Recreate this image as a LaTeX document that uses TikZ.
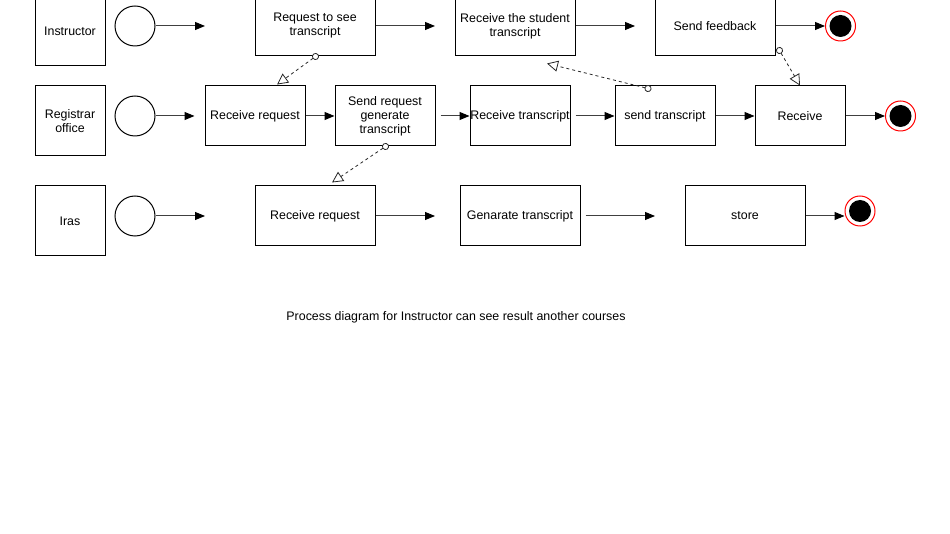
\documentclass[tikz,border=0pt]{standalone}
\usepackage{fontspec}
\setmainfont{Liberation Sans}
\usetikzlibrary{arrows.meta}
\tikzset{
  lane/.style={draw, line width=1pt, minimum width=70pt, minimum height=70pt, inner sep=0pt, align=center},
  act/.style={draw, line width=1pt, minimum height=60pt, inner sep=0pt, align=center},
  startc/.style={draw, circle, line width=1pt, minimum size=40pt, inner sep=0pt},
  endring/.style={draw=red, fill=white, circle, line width=1pt, minimum size=30pt, inner sep=0pt},
  enddot/.style={fill=black, circle, minimum size=22pt, inner sep=0pt},
  flow/.style={draw=black!75, line width=1pt, -{Triangle[length=10pt,width=8pt,fill=black,color=black]}},
  msg/.style={draw=black!85, line width=0.8pt, dash pattern=on 3pt off 3pt, shorten <=-3.5pt,
    {Circle[open,length=7pt,width=7pt,fill=white,line width=0.8pt]}-{Triangle[open,length=11pt,width=11pt,fill=white,line width=0.8pt]}},
}
\begin{document}
\begin{tikzpicture}[x=1pt,y=-1pt, font=\fontsize{12.4}{14}\selectfont]
\useasboundingbox (0,0) rectangle (950,534);
% lanes
\node[lane] (l1) at (70,31) {Instructor};
\node[lane] (l2) at (70,121) {Registrar\\office};
\node[lane] (l3) at (70,221) {Iras};
% start circles
\node[startc] (s1) at (135,26) {};
\node[startc] (s2) at (135,116) {};
\node[startc] (s3) at (135,216) {};
% row 1
\node[act, minimum width=120pt] (req) at (315,26) {Request to see\\transcript};
\node[act, minimum width=120pt] (rst) at (515,26) {Receive the student\\transcript};
\node[act, minimum width=120pt] (sf) at (715,26) {Send feedback};
\node[endring] (e1) at (840.5,26) {};
\node[enddot] at (e1) {};
% row 2
\node[act, minimum width=100pt] (rr) at (255,116) {Receive request};
\node[act, minimum width=100pt] (srg) at (385,116) {Send request\\generate\\transcript};
\node[act, minimum width=100pt] (rt) at (520,116) {Receive transcript};
\node[act, minimum width=100pt] (st) at (665,116) {send transcript};
\node[act, minimum width=90pt] (rcv) at (800,116) {Receive};
\node[endring] (e2) at (900.5,116) {};
\node[enddot] at (e2) {};
% row 3
\node[act, minimum width=120pt] (rr3) at (315,216) {Receive request};
\node[act, minimum width=120pt] (gt) at (520,216) {Genarate transcript};
\node[act, minimum width=120pt] (sto) at (745,216) {store};
\node[endring] (e3) at (860,211) {};
\node[enddot] at (e3) {};
% free ends
\coordinate (a1) at (205,26);
\coordinate (a2) at (435,26);
\coordinate (a3) at (635,26);
\coordinate (a5) at (205,216);
\coordinate (a6) at (435,216);
\coordinate (a7) at (655,216);
% flows row 1
\draw[flow] (s1) -- (a1);
\draw[flow] (req) -- (a2);
\draw[flow] (rst) -- (a3);
\draw[flow] (sf) -- (e1);
% flows row 2
\draw[flow, shorten >=10pt] (s2) -- (rr);
\draw[flow] (rr) -- (srg);
\draw[flow, shorten <=5pt] (srg) -- (rt);
\draw[flow, shorten <=5pt] (rt) -- (st);
\draw[flow] (st) -- (rcv);
\draw[flow] (rcv) -- (e2);
% flows row 3
\draw[flow] (s3) -- (a5);
\draw[flow] (rr3) -- (a6);
\draw[flow, shorten <=5pt] (gt.east) -- (a7);
\draw[flow] (sto.east) -- (sto.east -| e3.west);
% messages
\draw[msg] ([xshift=0.5pt]req.south) -- ([xshift=22pt,yshift=1pt]rr.north);
\draw[msg] ([xshift=-17pt,yshift=-3pt]st.north) -- ([xshift=32pt,yshift=-7pt]rst.south);
\draw[msg] ([xshift=4pt,yshift=6pt]sf.south east) -- (rcv.north);
\draw[msg] ([xshift=0.5pt]srg.south) -- ([xshift=17pt,yshift=3pt]rr3.north);
% caption
\node (cap) at (456,317) {Process diagram for Instructor can see result another courses};
\end{tikzpicture}
\end{document}
